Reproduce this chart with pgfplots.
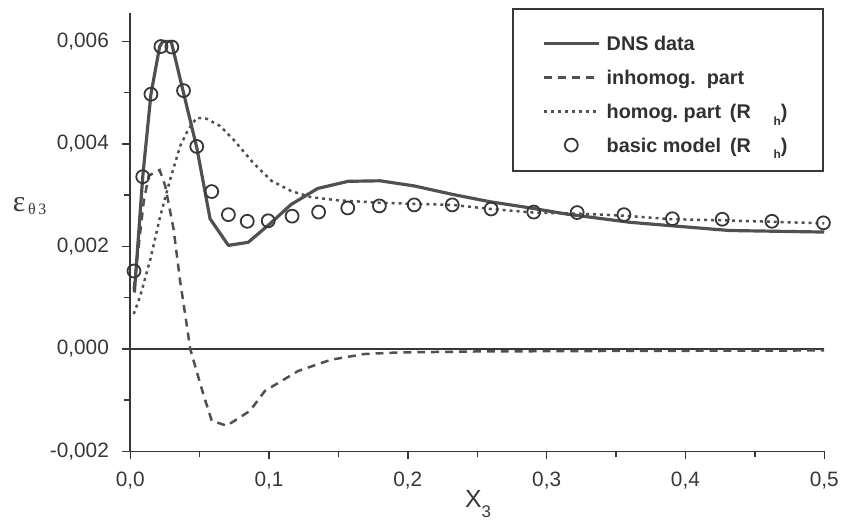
\documentclass[border=0pt]{standalone}
\usepackage{fontspec}
\setmainfont{Liberation Sans}
\newfontfamily\greekfont{Liberation Serif}
\usepackage{pgfplots}
\pgfplotsset{compat=1.18}
\definecolor{curve}{RGB}{80,80,80}
\definecolor{axisgray}{RGB}{55,55,55}
\pgfplotsset{
  linelegend/.style={legend image code/.code={\draw[##1] (0bp,0bp) -- (55bp,0bp);}},
  marklegend/.style={legend image code/.code={\draw[##1] plot coordinates {(27bp,0bp)};}},
}

\begin{document}
\begin{tikzpicture}
\begin{axis}[
  name=main, at={(0,0)}, anchor=south west,
  scale only axis, width=698bp, height=441bp,
  xmin=0, xmax=0.5, ymin=-0.002, ymax=0.006556,
  clip=false,
  axis x line=bottom, axis y line=left,
  axis line style={-, draw=axisgray, line width=1.6bp},
  xtick={0,0.1,0.2,0.3,0.4,0.5},
  minor xtick={0.05,0.15,0.25,0.35,0.45},
  ytick={-0.002,0,0.002,0.004,0.006},
  minor ytick={-0.001,0.001,0.003,0.005},
  scaled x ticks=false, scaled y ticks=false,
  tick align=outside,
  major tick length=8bp, minor tick length=6bp,
  every tick/.style={draw=axisgray, line width=1.5bp},
  xticklabel style={font=\fontsize{21}{21}\selectfont, text=axisgray, yshift=-9bp,
    /pgf/number format/.cd, fixed, fixed zerofill, precision=1, use comma, assume math mode=true},
  yticklabel style={font=\fontsize{21}{21}\selectfont, text=axisgray, xshift=-10bp,
    /pgf/number format/.cd, fixed, fixed zerofill, precision=3, use comma, assume math mode=true},
  xlabel={X\raisebox{-0.4em}{\fontsize{17}{17}\selectfont 3}},
  xlabel style={font=\fontsize{25}{25}\selectfont, text=axisgray, at={(rel axis cs:0.501,-0.12)}, anchor=center},
  ylabel={{\greekfont\fontsize{30}{30}\selectfont ε}\raisebox{-0.3em}{\greekfont\fontsize{16}{16}\selectfont\,θ\,3}},
  ylabel style={rotate=-90, text=axisgray, at={(rel axis cs:-0.145,0.56)}, anchor=center},
  legend style={at={(rel axis cs:1,1.0113)}, anchor=north east,
    draw=axisgray, line width=1.8bp, fill=white,
    font=\bfseries\fontsize{20}{20}\selectfont, text=axisgray!90!black,
    inner xsep=30bp, inner ysep=15bp, row sep=3bp,
    nodes={text height=25bp, text depth=2bp, inner ysep=2bp, inner xsep=6bp},
    cells={anchor=base west}},
  legend image post style={yshift=7bp},
  linelegend,
]
\addplot[forget plot, draw=axisgray, line width=1.3bp] coordinates {(0,0) (0.5,0)};

% DNS data
\addplot[curve, line width=3.2bp, line join=round] coordinates {
  (0.0030,0.00110) (0.0090,0.00336) (0.0149,0.00497) (0.0212,0.00590)
  (0.0235,0.00600) (0.0295,0.00600) (0.0380,0.00504) (0.0480,0.00392)
  (0.0575,0.00254) (0.0707,0.00202) (0.0850,0.00208) (0.1006,0.00244)
  (0.1160,0.00282) (0.1350,0.00313) (0.1570,0.00327) (0.1800,0.00328)
  (0.2046,0.00318) (0.2330,0.00301) (0.2595,0.00287) (0.2860,0.00276)
  (0.3146,0.00263) (0.3600,0.00247) (0.4317,0.00231) (0.5000,0.00228)
};
\addlegendentry{DNS data}

% inhomogeneous part
\addplot[curve, line width=2.5bp, dash pattern=on 8bp off 6bp] coordinates {
  (0.0025,0.00116) (0.0097,0.00287) (0.0133,0.00338) (0.0212,0.00349)
  (0.0252,0.00318) (0.0312,0.00234) (0.0360,0.00131) (0.0407,0.00047)
  (0.0432,0.00000) (0.0527,-0.00089) (0.0587,-0.00140) (0.0695,-0.00150)
  (0.0862,-0.00121) (0.0970,-0.00082) (0.1210,-0.00043) (0.1448,-0.00021)
  (0.1687,-0.00010) (0.1926,-0.00007) (0.2500,-0.00005) (0.3500,-0.00004)
  (0.5000,-0.00003)
};
\addlegendentry{inhomog.\ \ part}

% homogeneous part
\addplot[curve, line width=2.5bp, dash pattern=on 3bp off 4bp] coordinates {
  (0.0025,0.00068) (0.0073,0.00104) (0.0145,0.00175) (0.0217,0.00260)
  (0.0288,0.00331) (0.0360,0.00396) (0.0420,0.00429) (0.0479,0.00451)
  (0.0551,0.00449) (0.0647,0.00435) (0.0742,0.00409) (0.0886,0.00363)
  (0.1017,0.00328) (0.1160,0.00308) (0.1304,0.00296) (0.1496,0.00290)
  (0.1806,0.00285) (0.2046,0.00283) (0.2320,0.00281) (0.2600,0.00273)
  (0.2907,0.00266) (0.3220,0.00264) (0.3557,0.00260) (0.3906,0.00253)
  (0.4265,0.00251) (0.4623,0.00248) (0.5000,0.00245)
};
\addlegendentry{homog.\ part \,(R\hspace{1.15em}\raisebox{-0.35em}{\fontsize{12}{12}\selectfont h})}

% basic model
\addplot[only marks, mark=o, mark size=6.5bp,
  mark options={draw=axisgray, fill=white, line width=1.8bp},
  marklegend] coordinates {
  (0.0027,0.00152) (0.0090,0.00336) (0.0149,0.00497) (0.0221,0.00590)
  (0.0300,0.00589) (0.0384,0.00504) (0.0479,0.00395) (0.0587,0.00307)
  (0.0707,0.00262) (0.0843,0.00249) (0.0994,0.00250) (0.1166,0.00259)
  (0.1357,0.00267) (0.1567,0.00275) (0.1795,0.00279) (0.2046,0.00281)
  (0.2320,0.00281) (0.2600,0.00273) (0.2907,0.00267) (0.3220,0.00266)
  (0.3557,0.00262) (0.3906,0.00254) (0.4265,0.00253) (0.4623,0.00249)
  (0.4994,0.00246)
};
\addlegendentry{basic model \,(R\hspace{1.15em}\raisebox{-0.35em}{\fontsize{12}{12}\selectfont h})}
\end{axis}
\path (main.south west) ++(-131bp,-67bp) rectangle ++(842bp,521bp);
\end{tikzpicture}
\end{document}
